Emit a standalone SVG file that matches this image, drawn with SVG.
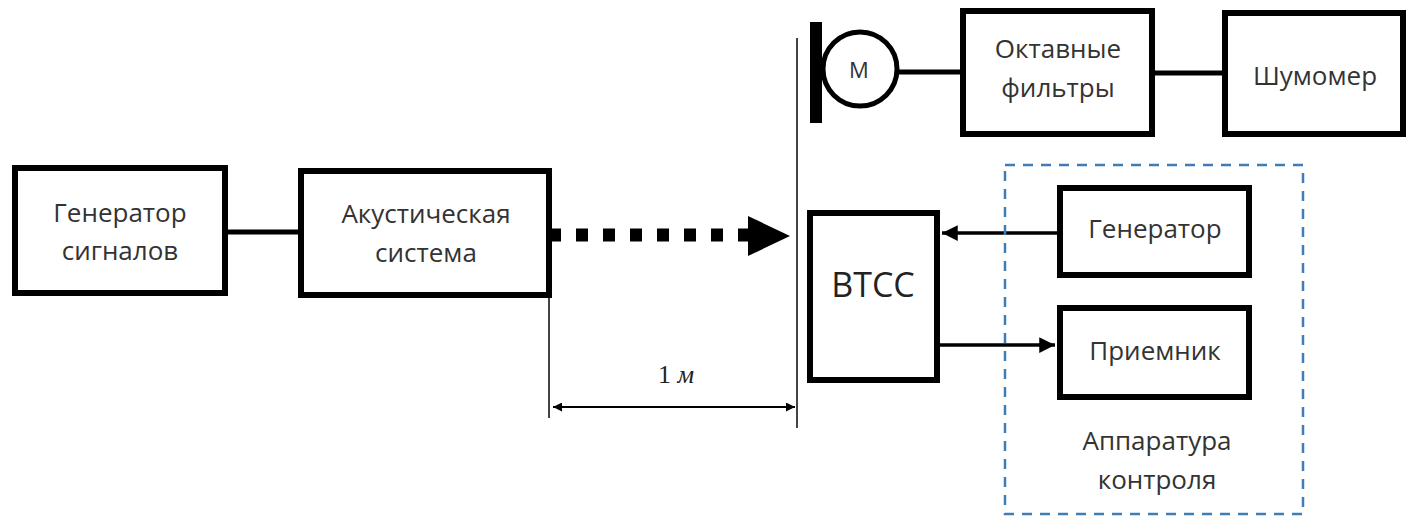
<svg xmlns="http://www.w3.org/2000/svg" width="1412" height="517" viewBox="0 0 1412 517">
<defs>
<style>
.box{fill:#fff;stroke:#000;stroke-width:6}
.t{font-family:"Open Sans","Liberation Sans",sans-serif;font-size:26px;fill:#333;text-anchor:middle}
.wire{stroke:#000;stroke-width:5;fill:none}
.thin{stroke:#444;stroke-width:2;fill:none}
.sig{stroke:#000;stroke-width:3.5;fill:none}
</style>
<marker id="ah" viewBox="0 0 10 10" refX="10" refY="5" markerWidth="5" markerHeight="4.5" orient="auto" markerUnits="strokeWidth">
<path d="M0,0 L10,5 L0,10 z" fill="#000"/>
</marker>
<marker id="dh" viewBox="0 0 10 10" refX="10" refY="5" markerWidth="7" markerHeight="5" orient="auto-start-reverse" markerUnits="strokeWidth">
<path d="M0,0 L10,5 L0,10 z" fill="#000"/>
</marker>
</defs>
<rect width="1412" height="517" fill="#fff"/>

<g id="connectors">
<line class="wire" x1="225" y1="232" x2="301" y2="232"/>
<line x1="549" y1="235" x2="752" y2="235" stroke="#000" stroke-width="13" stroke-dasharray="12 15"/>
<polygon points="748,216 790,236 748,256" fill="#000"/>
<line class="wire" x1="897" y1="72" x2="962" y2="72"/>
<line class="wire" x1="1155" y1="73" x2="1224" y2="73"/>
<line class="sig" x1="1057" y1="233" x2="942" y2="233" marker-end="url(#ah)"/>
<line class="sig" x1="937" y1="345" x2="1055" y2="345" marker-end="url(#ah)"/>
<line class="thin" x1="549" y1="295" x2="549" y2="418"/>
<line class="thin" x1="797" y1="38" x2="797" y2="428"/>
<line x1="553" y1="407" x2="795" y2="407" stroke="#000" stroke-width="1.8" marker-start="url(#dh)" marker-end="url(#dh)"/>
<text x="676" y="383" font-family="'Liberation Serif',serif" font-size="26" fill="#222" text-anchor="middle">1 <tspan font-style="italic">м</tspan></text>
</g>

<g id="gen-signal">
<rect class="box" x="15" y="168" width="210" height="125"/>
<text class="t" x="120" y="222">Генератор</text>
<text class="t" x="120" y="260">сигналов</text>
</g>

<g id="acoustic">
<rect class="box" x="301" y="171" width="248" height="124"/>
<text class="t" x="426" y="223">Акустическая</text>
<text class="t" x="426" y="262">система</text>
</g>

<g id="mic">
<rect x="810" y="22" width="12" height="101" fill="#000"/>
<circle cx="860" cy="69" r="37" fill="#fff" stroke="#000" stroke-width="5"/>
<text x="859" y="78" font-family="'Open Sans','Liberation Sans',sans-serif" font-size="22" fill="#333" text-anchor="middle">М</text>
</g>

<g id="octave">
<rect class="box" x="963" y="11" width="189" height="123"/>
<text class="t" x="1058" y="58">Октавные</text>
<text class="t" x="1058" y="97">фильтры</text>
</g>

<g id="noise-meter">
<rect class="box" x="1225" y="13" width="178" height="121"/>
<text class="t" x="1315" y="85">Шумомер</text>
</g>

<g id="vtss">
<rect class="box" x="810" y="213" width="127" height="167"/>
<text x="873" y="297" font-family="'Open Sans','Liberation Sans',sans-serif" font-size="34" fill="#222" text-anchor="middle">ВТСС</text>
</g>

<g id="control">
<rect x="1005" y="165" width="298" height="349" fill="none" stroke="#3f7db8" stroke-width="2.5" stroke-dasharray="10 8"/>
<text class="t" x="1157" y="450">Аппаратура</text>
<text class="t" x="1157" y="489">контроля</text>
</g>

<g id="generator">
<rect class="box" x="1060" y="188" width="189" height="87"/>
<text class="t" x="1155" y="238">Генератор</text>
</g>

<g id="receiver">
<rect class="box" x="1060" y="308" width="189" height="89"/>
<text class="t" x="1155" y="360">Приемник</text>
</g>
</svg>
